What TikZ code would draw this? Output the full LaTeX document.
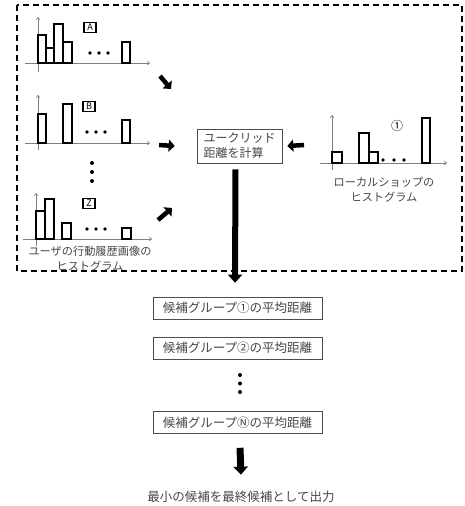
\documentclass[tikz,border=0pt]{standalone}
\usepackage{fontspec}
\setmainfont{Noto Sans CJK JP}
\usetikzlibrary{arrows.meta,positioning}
\definecolor{txtgray}{RGB}{70,70,70}

\begin{document}
\begin{tikzpicture}[x=1pt, y=-1pt,
        axisline/.style={draw=gray, line width=0.6pt, -{To[length=3pt,width=4pt]}},
        histbar/.style={draw=black, fill=white, line width=1.3pt},
        fatarrow/.style={draw, line width=4.5pt, -{Triangle[length=6pt,width=12pt]}},
        bigarrow/.style={draw, line width=6pt, -{Triangle[length=8pt,width=14pt]}},
        calcbox/.style={draw=black!70, line width=0.6pt, minimum width=85pt, minimum height=34pt, inner sep=2pt, align=left, font=\fontsize{12}{15}\selectfont, text=txtgray},
        grpbox/.style={draw=black!70, line width=0.6pt, minimum width=169pt, minimum height=22pt, inner sep=0pt, font=\fontsize{12.5}{14}\selectfont, text=txtgray},
        tagbox/.style={draw, line width=1.1pt, inner sep=0pt, minimum width=12pt, minimum height=9.5pt, font=\fontsize{9}{9}\selectfont},
        caption/.style={align=center, font=\fontsize{11.2}{15}\selectfont, text=txtgray},
        bigdot/.style={circle, fill=black, inner sep=0pt, minimum size=4pt}
    ]
    \useasboundingbox (0,0) rectangle (465,506);

    % Dashed frame
    \draw[line width=1.3pt, dash pattern=on 6pt off 4pt] (17,5) rectangle (462,271);

    % Histogram A
    \draw[axisline] (25,63) -- (150,63);
    \draw[axisline] (38,72) -- (38,17);
    \foreach \l/\r/\t in {38/46/35, 46/54/48, 54/63/24, 63/72/42, 122/130/42}
        \draw[histbar] (\l,63) rectangle (\r,\t);
    \foreach \x in {90,99,108}
        \fill (\x,53) circle (1.8pt);
    \node[tagbox] (tagA) at (90,27.5) {A};

    % Histogram B
    \draw[axisline] (25,143) -- (150,143);
    \draw[axisline] (38,150) -- (38,95);
    \foreach \l/\r/\t in {38/46/114, 63/72/104, 122/130/120}
        \draw[histbar] (\l,143) rectangle (\r,\t);
    \foreach \x in {87,96,105}
        \fill (\x,132) circle (1.8pt);
    \node[tagbox] (tagB) at (89,106.5) {B};

    % Dots between histograms
    \node[bigdot] (vd1) at (92,163) {};
    \node[bigdot] (vd2) at (92,172) {};
    \node[bigdot] (vd3) at (92,181) {};

    % Histogram Z
    \draw[axisline] (23,239) -- (152,239);
    \draw[axisline] (36,246) -- (36,193);
    \foreach \l/\r/\t in {36/45/211, 45/54/199, 62/71/223, 122/131/228}
        \draw[histbar] (\l,239) rectangle (\r,\t);
    \foreach \x in {87,96,105}
        \fill (\x,229) circle (1.8pt);
    \node[tagbox] (tagZ) at (89,203.5) {Z};
    \node[caption] (userlbl) at (90,258.5) {ユーザの行動履歴画像の\\ヒストグラム};

    % Local shop histogram
    \draw[axisline] (320,163) -- (447,163);
    \draw[axisline] (332,170) -- (332,115);
    \foreach \l/\r/\t in {332/342/152, 359/369/133, 369/378/152, 422/430/118}
        \draw[histbar] (\l,163) rectangle (\r,\t);
    \foreach \x in {383,394,404}
        \fill (\x,160) circle (1.8pt);
    \node[font=\fontsize{12}{12}\selectfont] (tag1) at (397,126) {①};
    \node[caption] (shoplbl) at (384,189.5) {ローカルショップの\\ヒストグラム};

    % Distance box and candidate boxes
    \node[calcbox] (calc) at (239.5,146) {ユークリッド\\距離を計算};
    \node[grpbox] (grp1) at (237.5,308) {候補グループ①の平均距離};
    \node[grpbox] (grp2) at (237.5,348) {候補グループ②の平均距離};
    \node[bigdot] (gd1) at (240,375) {};
    \node[bigdot] (gd2) at (240,383.5) {};
    \node[bigdot] (gd3) at (240,392) {};
    \node[grpbox] (grpN) at (237.5,422.5) {候補グループⓃの平均距離};
    \node[caption, font=\fontsize{12.5}{15}\selectfont] (out) at (241,497) {最小の候補を最終候補として出力};

    % Arrow ends
    \coordinate (fromA) at (160,76);
    \coordinate (toA) at (171,89);
    \coordinate (fromB) at (159,145);
    \coordinate (fromZ) at (158,220);
    \coordinate (toZ) at (172,208);
    \coordinate (fromShop) at (304,145);

    % Draw arrows
    \draw[fatarrow] (fromA) -- (toA);
    \draw[fatarrow] (fromB) -- ([xshift=-22pt]calc.west);
    \draw[fatarrow] (fromZ) -- (toZ);
    \draw[fatarrow] (fromShop) -- ([xshift=5pt]calc.east);
    \draw[bigarrow] ([xshift=-4pt,yshift=-6pt]calc.south) -- ([xshift=-2.5pt,yshift=14pt]grp1.north);
    \draw[bigarrow, line width=7pt] ([xshift=2.5pt,yshift=-14pt]grpN.south) -- ([yshift=13pt]out.north);

\end{tikzpicture}
\end{document}
